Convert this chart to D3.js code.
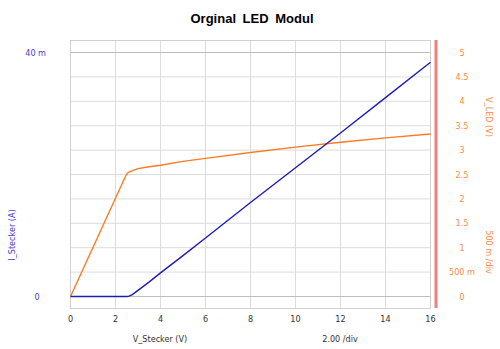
<!DOCTYPE html>
<html><head><meta charset="utf-8">
<script src="https://cdn.jsdelivr.net/npm/d3@7"></script>
<style>body{margin:0;background:#fff}svg{display:block}text{font-family:"DejaVu Sans Condensed","Liberation Sans Narrow",Arial,sans-serif}</style>
</head><body><svg id="c" width="500" height="349"></svg>
<script>
const vStecker = [0, 2.45, 2.52, 2.6, 2.75, 3, 3.5, 4, 5, 6, 8, 10, 12, 14, 16];
const vLED =     [0, 2.47, 2.52, 2.55, 2.58, 2.62, 2.66, 2.69, 2.77, 2.83, 2.95, 3.06, 3.16, 3.25, 3.33];
const iStecker = [0, 0, 0, 0.05, 0.3, 1.0, 2.4, 3.87, 6.7, 9.6, 15.4, 21.1, 26.8, 32.6, 38.4]; // mA
const xTicks = [0, 2, 4, 6, 8, 10, 12, 14, 16];
const vTicks = [0, 0.5, 1, 1.5, 2, 2.5, 3, 3.5, 4, 4.5, 5];
const vTickLabels = ["0", "500 m", "1", "1.5", "2", "2.5", "3", "3.5", "4", "4.5", "5"];
const iTicks = [0, 40];
const iTickLabels = ["0", "40 m"];

const svg = d3.select("#c");
const L = 70.5, R = 430.5, T = 40, B = 308;
const x = d3.scaleLinear().domain([0, 16]).range([L, R]);
const yV = d3.scaleLinear().domain([0, 5]).range([296.5, 52.5]);
const yI = d3.scaleLinear().domain([0, 40]).range([296.5, 52.5]);

svg.append("text").attr("x", 252).attr("y", 23).attr("text-anchor", "middle")
  .style("font-family", "Arial, 'Liberation Sans', sans-serif").style("font-weight", "bold").style("font-size", "13px")
  .style("word-spacing", "3px").text("Orginal LED Modul");

// grid
const g = svg.append("g");
g.selectAll(".vg").data(xTicks).join("line").attr("x1", d => x(d)).attr("x2", d => x(d))
  .attr("y1", T).attr("y2", B).attr("stroke", "#dcdcdc").attr("stroke-width", 1);
g.selectAll(".hg").data(vTicks).join("line").attr("x1", L).attr("x2", R)
  .attr("y1", d => yV(d)).attr("y2", d => yV(d))
  .attr("stroke", d => (d === 0 || d === 5) ? "#bdbdbd" : "#dcdcdc").attr("stroke-width", 1);
g.append("rect").attr("x", L).attr("y", T + 0.5).attr("width", R - L).attr("height", B - T)
  .attr("fill", "none").attr("stroke", "#d0d0d0");

// red bar
svg.append("line").attr("x1", 436).attr("x2", 436).attr("y1", T).attr("y2", B).attr("stroke", "#ee7f7f").attr("stroke-width", 3);

// x axis labels
svg.selectAll(".xt").data(xTicks).join("text").attr("x", d => x(d)).attr("y", 322)
  .attr("text-anchor", "middle").style("font-size", "9px").attr("fill", "#333").text(d => d);
svg.append("text").attr("x", 160).attr("y", 342).attr("text-anchor", "middle").style("font-size", "9px").attr("fill", "#333").text("V_Stecker (V)");
svg.append("text").attr("x", 340).attr("y", 342).attr("text-anchor", "middle").style("font-size", "9px").attr("fill", "#333").text("2.00  /div");

// left axis
svg.selectAll(".it").data(iTicks).join("text").attr("x", d => d === 0 ? 37 : 46).attr("y", d => yI(d) + 3)
  .attr("text-anchor", d => d === 0 ? "middle" : "end").style("font-size", "9px").attr("fill", "#4a3fd0").text((d, i) => iTickLabels[i]);
svg.append("text").attr("transform", "translate(15,235) rotate(-90)").attr("text-anchor", "middle")
  .style("font-size", "9px").attr("fill", "#4a3fd0").text("I_Stecker (A)");

// right axis
svg.selectAll(".vt").data(vTicks).join("text").attr("x", 462).attr("y", d => yV(d) + 3)
  .attr("text-anchor", "middle").style("font-size", "9px").attr("fill", "#ff8a3d").text((d, i) => vTickLabels[i]);
svg.append("text").attr("transform", "translate(486,117) rotate(90)").attr("text-anchor", "middle")
  .style("font-size", "9px").attr("fill", "#ff8a3d").text("V_LED (V)");
svg.append("text").attr("transform", "translate(486,252) rotate(90)").attr("text-anchor", "middle")
  .style("font-size", "9px").attr("fill", "#ff8a3d").text("500 m /div");

// series
const idx = d3.range(vStecker.length);
svg.append("path").datum(idx).attr("fill", "none").attr("stroke", "#ff7a22").attr("stroke-width", 1.4)
  .attr("d", d3.line().x(i => x(vStecker[i])).y(i => yV(vLED[i])));
svg.append("path").datum(idx).attr("fill", "none").attr("stroke", "#1c1cb8").attr("stroke-width", 1.4)
  .attr("d", d3.line().x(i => x(vStecker[i])).y(i => yI(iStecker[i])));
</script></body></html>
